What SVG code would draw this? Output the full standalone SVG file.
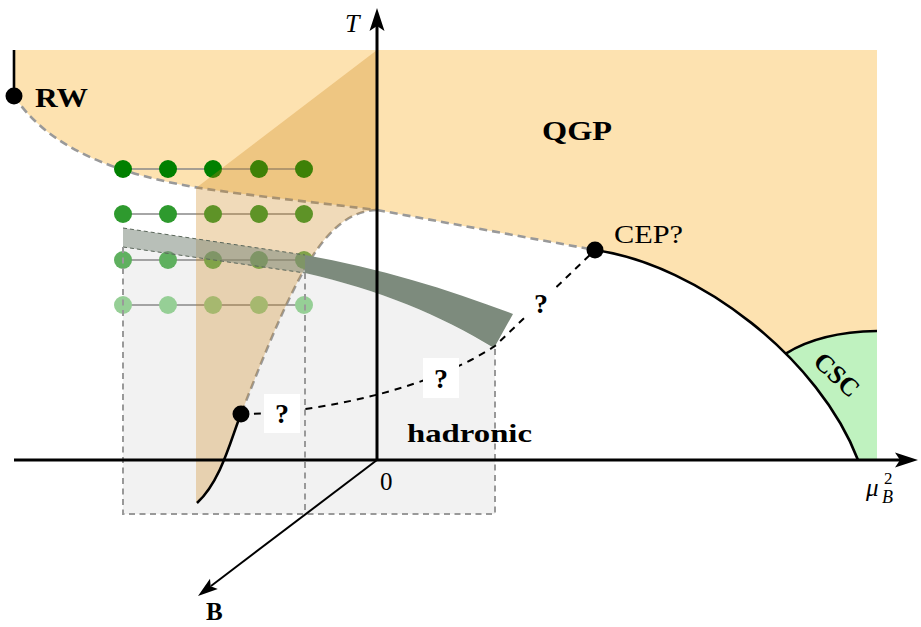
<svg xmlns="http://www.w3.org/2000/svg" width="921" height="627" viewBox="0 0 921 627">
<style>
.serif{font-family:"Liberation Serif","DejaVu Serif",serif;fill:#000}
.b{font-weight:bold}
.gdash{fill:none;stroke:#999;stroke-width:2.6;stroke-dasharray:8 5}
.bdash{fill:none;stroke:#999;stroke-width:2;stroke-dasharray:6 4.5}
.solid{fill:none;stroke:#000;stroke-width:2.6}
.dl{stroke:#888;stroke-width:1.3}
.qbox{fill:#fff}
</style>
<rect width="921" height="627" fill="#fff"/>

<g id="qgp-region">
<path d="M14,50 L877,50 L877,331 Q820,332 785.8,353.6 C732.1,300 660.6,259.4 595,250 L377,210 C330,204 260,197 200,188 C90,170 40,135 14,96 Z" fill="#fde2b0"/>
</g>
<g id="csc-region">
<path d="M785.8,353.6 Q820,332 877,331 L877,460 L858,460 C843.75,422.5 818,385.7 785.8,353.6 Z" fill="#bff2bf"/>
</g>
<g id="hadronic-region">
<path d="M123,247 L305,273 C380,290 440,315 493,348 L495,348 L495,514 L123,514 Z" fill="#f2f2f2"/>
</g>

<g id="phase-boundaries">
<path class="gdash" d="M14,96 C40,135 90,170 200,188 C260,197 330,204 377,210"/>
<path class="gdash" d="M377,210 L595,250"/>
<path class="gdash" d="M377,210 C325,212 295,275 241,414"/>
</g>

<g id="lattice-points">
<g class="dl">
<line x1="123" y1="169" x2="304" y2="169"/>
<line x1="123" y1="214" x2="304" y2="214"/>
<line x1="123" y1="260" x2="304" y2="260"/>
<line x1="123" y1="305" x2="304" y2="305"/>
</g>
<g fill="#008000">
<circle cx="123" cy="169" r="9"/><circle cx="168" cy="169" r="9"/><circle cx="213" cy="169" r="9"/><circle cx="259" cy="169" r="9"/><circle cx="304" cy="169" r="9"/>
</g>
<g fill="#2e9a2e">
<circle cx="123" cy="214" r="9"/><circle cx="168" cy="214" r="9"/><circle cx="213" cy="214" r="9"/><circle cx="259" cy="214" r="9"/><circle cx="304" cy="214" r="9"/>
</g>
<g fill="#5fb05f">
<circle cx="123" cy="260" r="9"/><circle cx="168" cy="260" r="9"/><circle cx="213" cy="260" r="9"/><circle cx="259" cy="260" r="9"/><circle cx="304" cy="260" r="9"/>
</g>
<g fill="#96cf96">
<circle cx="123" cy="305" r="9"/><circle cx="168" cy="305" r="9"/><circle cx="213" cy="305" r="9"/><circle cx="259" cy="305" r="9"/><circle cx="304" cy="305" r="9"/>
</g>
</g>

<g id="imaginary-wedge">
<path d="M377,50 L196,188 L196,503 C222,480 232,435 241,414 C295,275 325,212 377,210 Z" fill="#cd8416" fill-opacity="0.3"/>
</g>

<g id="crossover-band">
<path d="M123,228 L305,255 L305,273 L123,247 Z" fill="#7d8b7d" fill-opacity="0.55"/>
<path d="M123,228 L305,255 M123,247 L305,273" fill="none" stroke="#5a665a" stroke-width="1" stroke-dasharray="4 3"/>
<path d="M305,255 C380,268 450,290 513,314 L494,348 C440,315 380,290 305,273 Z" fill="#7d8b7d"/>
</g>

<g id="connectors">
<path class="bdash" d="M123,247 L123,514 L495,514 L495,348 M305,273 L305,514"/>
<path class="solid" d="M241,414 C232,435 222,480 197,503"/>
<path class="solid" d="M595,250 C700,265 820,360 858,460"/>
<path class="solid" d="M785.8,353.6 Q820,332 877,331"/>
<path class="solid" d="M14,50 L14,96"/>
<path d="M241,414 C300,414 420,395 495,346 L595,250" fill="none" stroke="#000" stroke-width="2" stroke-dasharray="7 6"/>
</g>

<g id="axes">
<line x1="377" y1="461" x2="377" y2="26" stroke="#000" stroke-width="3"/>
<path d="M377,8 L384.5,31 L377,26 L369.5,31 Z" fill="#000"/>
<line x1="14" y1="460" x2="900" y2="460" stroke="#000" stroke-width="3"/>
<path d="M918,460 L895,452.5 L900,460 L895,467.5 Z" fill="#000"/>
<line x1="377" y1="460" x2="211" y2="586" stroke="#000" stroke-width="2"/>
<path d="M198,596 L217.8,589.1 L210.7,586.3 L210,578.7 Z" fill="#000"/>
</g>

<g id="question-marks">
<rect class="qbox" x="264" y="394" width="36" height="39"/>
<text class="serif b" x="282" y="423" font-size="28" text-anchor="middle">?</text>
<rect class="qbox" x="423" y="358" width="36" height="40"/>
<text class="serif b" x="441" y="388" font-size="28" text-anchor="middle">?</text>
<rect class="qbox" x="527" y="286" width="29" height="36"/>
<text class="serif b" x="541" y="313" font-size="28" text-anchor="middle">?</text>
</g>

<g id="RW">
<circle cx="14" cy="96" r="8.5" fill="#000"/>
<text class="serif b" x="35" y="107" font-size="27" textLength="53" lengthAdjust="spacingAndGlyphs">RW</text>
</g>
<g id="CEP">
<circle cx="595" cy="250" r="8.5" fill="#000"/>
<text class="serif" x="614" y="243" font-size="25" textLength="69" lengthAdjust="spacingAndGlyphs">CEP?</text>
</g>
<g id="endpoint">
<circle cx="241" cy="414" r="8.5" fill="#000"/>
</g>
<g id="QGP">
<text class="serif b" x="542" y="140" font-size="28" textLength="70" lengthAdjust="spacingAndGlyphs">QGP</text>
</g>
<g id="hadronic">
<text class="serif b" x="407" y="442" font-size="25" textLength="125" lengthAdjust="spacingAndGlyphs">hadronic</text>
</g>
<g id="CSC">
<text class="serif b" x="0" y="0" font-size="26" text-anchor="middle" transform="translate(831,381) rotate(43)">CSC</text>
</g>
<g id="labels">
<text class="serif" x="380" y="490" font-size="25">0</text>
<text class="serif" x="345" y="32" font-size="26" font-style="italic">T</text>
<text class="serif" x="866" y="496" font-size="25" font-style="italic">μ</text>
<text class="serif" x="882" y="503" font-size="18" font-style="italic">B</text>
<text class="serif" x="884" y="484" font-size="17">2</text>
<text class="serif b" x="206" y="620" font-size="25">B</text>
</g>
</svg>
